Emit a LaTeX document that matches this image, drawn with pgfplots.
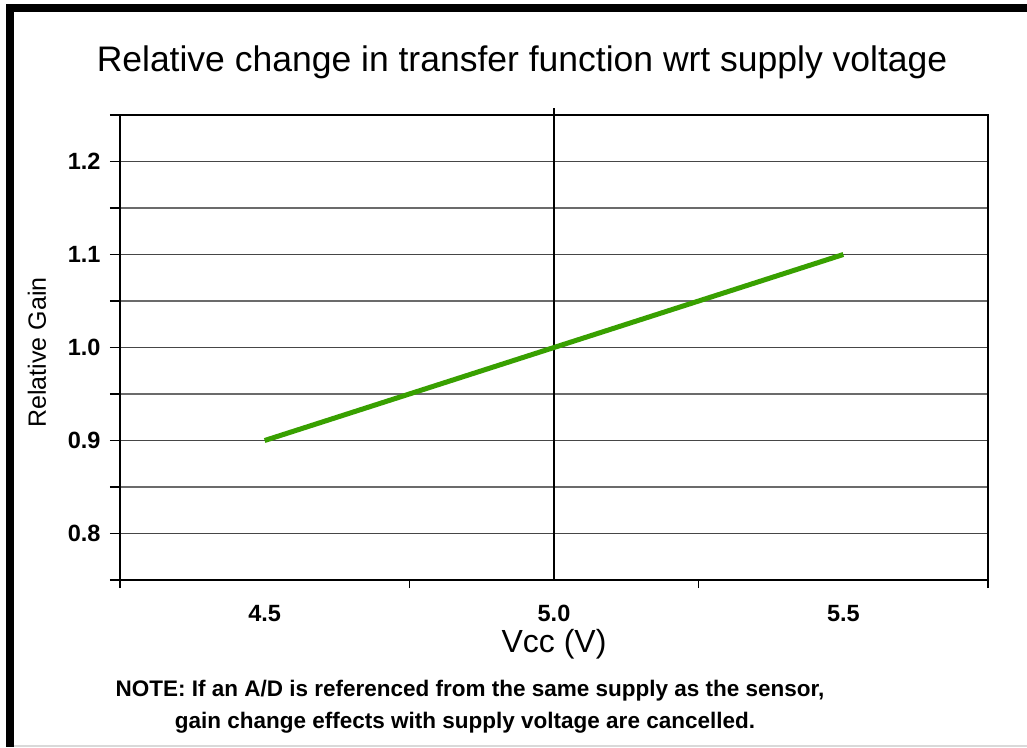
\documentclass[border=0pt]{standalone}
\usepackage{pgfplots}
\pgfplotsset{compat=1.18}
\usepackage{fontspec}
\setmainfont{Liberation Sans}
\definecolor{linegreen}{RGB}{56,160,0}
\definecolor{gridgray}{RGB}{70,70,70}
\begin{document}
\begin{tikzpicture}[x=1pt,y=1pt]
\useasboundingbox (0,0) rectangle (1027,747);
% outer frame
\fill[black] (6,0) rectangle (14,743);
\fill[black] (6,735) rectangle (1027,743);
\draw[gray!30,line width=1.5pt] (14,1) -- (1027,1);
% title
\node[anchor=base,font=\fontsize{35.5}{40}\selectfont] at (522,675) {Relative change in transfer function wrt supply voltage};
\begin{axis}[
  at={(120pt,167pt)}, anchor=south west,
  scale only axis, width=868pt, height=465pt,
  xmin=4.25, xmax=5.75, ymin=0.75, ymax=1.25,
  axis line style={black, line width=1.6pt},
  xtick={4.5,5.0,5.5},
  xticklabels={4.5,5.0,\raisebox{4pt}{5.5}},
  minor xtick={4.25,4.75,5.25,5.75},
  ytick={0.8,0.9,1.0,1.1,1.2},
  yticklabels={0.8,0.9,1.0,1.1,1.2},
  minor ytick={0.75,0.85,0.95,1.05,1.15,1.25},
  ymajorgrids, yminorgrids,
  major grid style={gridgray, line width=1.5pt},
  minor grid style={gridgray!80, line width=1.5pt},
  tick pos=left, tick align=outside,
  xtick style={draw=none},
  minor x tick style={draw=black, line width=1.5pt},
  minor tick length=8pt,
  ytick style={black, line width=1.5pt},
  minor y tick style={black, line width=1.5pt, /pgfplots/minor tick length=10pt},
  major tick length=10pt,
  tick label style={font=\bfseries\fontsize{23.5}{28}\selectfont},
  /pgf/number format/assume math mode=true,
  xticklabel style={yshift=-12pt},
  yticklabel style={xshift=-6pt},
  xlabel={Vcc (V)},
  xlabel style={font=\fontsize{32}{38}\selectfont, at={(axis description cs:0.5,0)}, anchor=north, yshift=-46pt},
  ylabel={Relative Gain},
  ylabel style={font=\fontsize{25}{30}\selectfont, at={(axis description cs:0,0.5)}, anchor=center, xshift=-5pt, yshift=83pt},
  clip=false,
]
\addplot[black, line width=1.8pt] coordinates {(5.0,0.75) (5.0,1.258)};
\addplot[linegreen, line width=5pt] coordinates {(4.5,0.9) (5.5,1.1)};
\end{axis}
% note
\node[anchor=base,font=\bfseries\fontsize{22.5}{27}\selectfont] at (470,51) {NOTE: If an A/D is referenced from the same supply as the sensor,};
\node[anchor=base,font=\bfseries\fontsize{22.5}{27}\selectfont] at (465,19) {gain change effects with supply voltage are cancelled.};
\end{tikzpicture}
\end{document}
